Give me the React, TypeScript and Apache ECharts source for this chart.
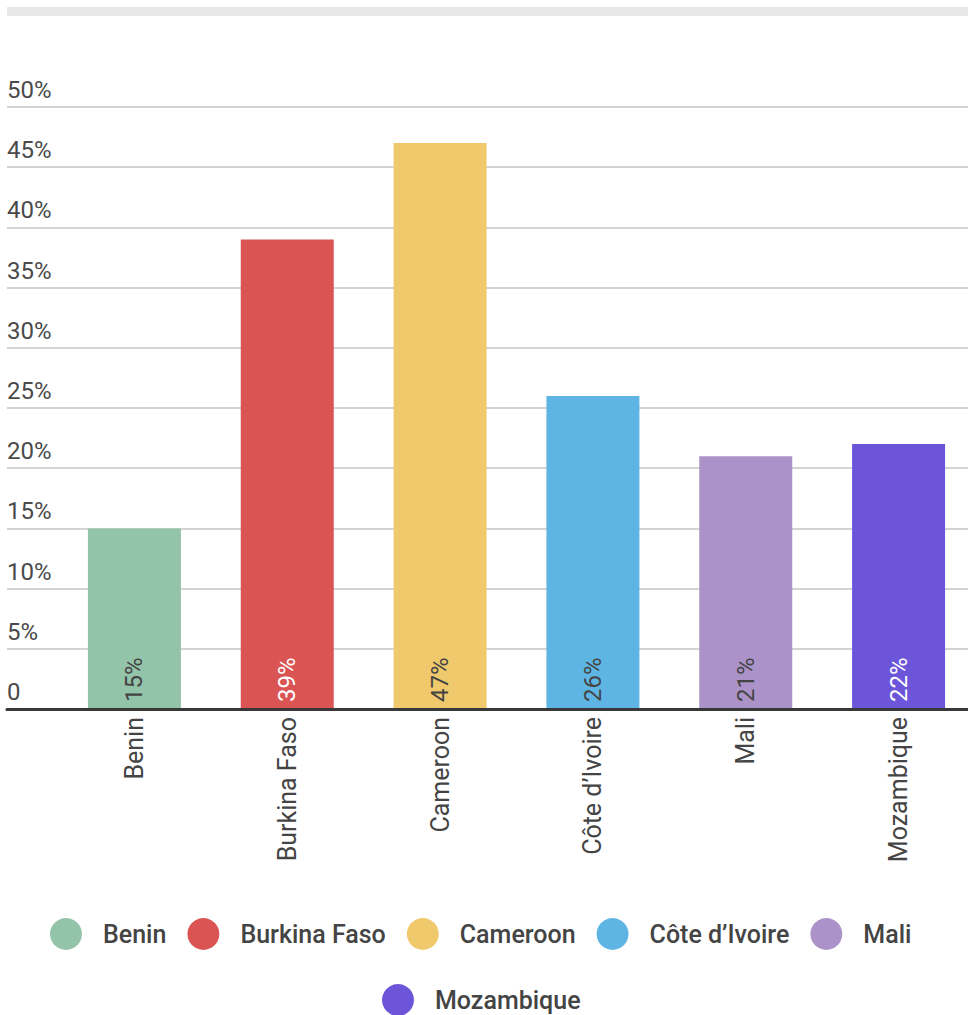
import React, { useEffect, useRef } from "react";
import * as echarts from "echarts";

const categories = ["Benin", "Burkina Faso", "Cameroon", "Côte d’Ivoire", "Mali", "Mozambique"];
const values = [15, 39, 47, 26, 21, 22];
const colors = ["#93c3a8", "#db5454", "#efc96b", "#5eb5e4", "#ab92c8", "#6c55d9"];
const labelColors = ["#444444", "#ffffff", "#444444", "#444444", "#444444", "#ffffff"];
const legendRow1 = ["Benin", "Burkina Faso", "Cameroon", "Côte d’Ivoire", "Mali"];
const legendRow2 = ["Mozambique"];

const FONT = "Roboto";

const legendBase = {
  icon: "circle",
  itemWidth: 32,
  itemHeight: 32,
  itemGap: 21,
  padding: 0,
  textStyle: {
    fontFamily: FONT,
    fontSize: 25,
    fontWeight: 500,
    color: "#444444",
    padding: [0, 0, 0, 16],
    lineHeight: 32,
  },
};

export default function App() {
  const ref = useRef<HTMLDivElement>(null);
  useEffect(() => {
    document.body.style.margin = "0";
    document.body.style.overflow = "hidden";
    const chart = echarts.init(ref.current!, undefined, { renderer: "svg" });
    const series: any[] = categories.map((name, i) => ({
      name,
      type: "bar",
      xAxisIndex: 0,
      yAxisIndex: 0,
      stack: "all",
      barWidth: 93,
      itemStyle: { color: colors[i] },
      data: categories.map((_, j) => (j === i ? values[i] : "-")),
      label: {
        show: true,
        position: "insideBottom",
        rotate: 90,
        align: "left",
        verticalAlign: "middle",
        distance: 7,
        formatter: "{c}%",
        fontFamily: FONT,
        fontSize: 24,
        color: labelColors[i],
      },
    }));
    chart.setOption({
      animation: false,
      graphic: [
        {
          type: "rect",
          left: 7,
          top: 7,
          shape: { width: 961, height: 9 },
          style: { fill: "#e8e8e8" },
        },
      ],
      legend: [
        { ...legendBase, left: 50, top: 918, data: legendRow1 },
        { ...legendBase, left: 382, top: 984, data: legendRow2 },
      ],
      grid: [
        { left: 58, right: 0, top: 107, height: 602, containLabel: false },
        { left: 7, right: 7, top: 107, height: 602, containLabel: false },
      ],
      xAxis: [
        {
          type: "category",
          gridIndex: 0,
          data: categories,
          axisLine: { show: false },
          axisTick: { show: false },
          axisLabel: {
            rotate: 90,
            margin: 8,
            fontFamily: FONT,
            fontSize: 25,
            color: "#444444",
          },
          z: 3,
        },
        {
          type: "value",
          gridIndex: 1,
          min: 0,
          max: 1,
          axisLine: { show: true, onZero: false, lineStyle: { color: "#383838", width: 3 } },
          axisTick: { show: false },
          axisLabel: { show: false },
          splitLine: { show: false },
          z: 5,
        },
      ],
      yAxis: [
        {
          type: "value",
          gridIndex: 0,
          min: 0,
          max: 50,
          interval: 5,
          axisLine: { show: false },
          axisTick: { show: false },
          axisLabel: { show: false },
          splitLine: { show: false },
        },
        {
          type: "value",
          gridIndex: 1,
          min: 0,
          max: 50,
          interval: 5,
          axisLine: { show: false },
          axisTick: { show: false },
          splitLine: { show: true, lineStyle: { color: "#c4c4c4", width: 1.5 } },
          axisLabel: {
            inside: true,
            margin: 0,
            align: "left",
            verticalAlign: "bottom",
            padding: [0, 0, 5, 0],
            fontFamily: FONT,
            fontSize: 24,
            color: "#4a4a4a",
            formatter: (v: number) => (v === 0 ? "0" : v + "%"),
          },
          z: 0,
        },
      ],
      series,
    });
    return () => chart.dispose();
  }, []);
  return <div ref={ref} style={{ width: 975, height: 1015 }} />;
}
